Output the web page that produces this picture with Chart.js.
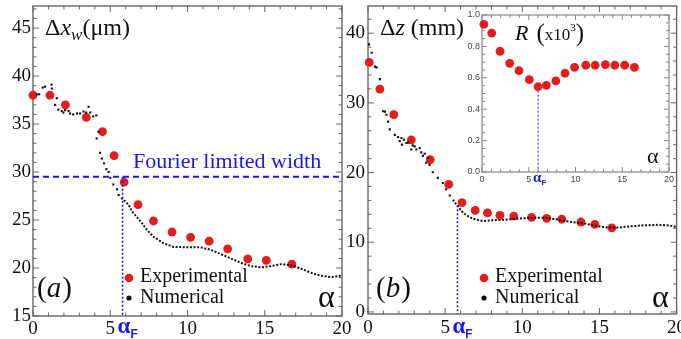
<!DOCTYPE html>
<html>
<head>
<meta charset="utf-8">
<script src="https://cdn.jsdelivr.net/npm/chart.js@4.4.1/dist/chart.umd.min.js"></script>
<style>
html, body { margin: 0; padding: 0; background: #fff; }
#wrap { position: relative; width: 681px; height: 339px; overflow: hidden; }
canvas { position: absolute; }
#chartA { left: 0; top: 0; }
#chartB { left: 340px; top: 0; }
#chartR { left: 460px; top: 5px; }
</style>
</head>
<body>
<div id="wrap">
  <canvas id="chartA" width="355" height="339"></canvas>
  <canvas id="chartB" width="341" height="339"></canvas>
  <canvas id="chartR" width="221" height="190"></canvas>
</div>
<script>
const SERIF = "'Liberation Serif', 'Times New Roman', serif";
const SANS = "'Liberation Sans', Arial, sans-serif";
const RED = '#e31c1c';
const BLUE = '#1818ee';
const INK = '#111';

// tick labels
const alphaTicks = [0, 5, 10, 15, 20];
const widthTicks = [15, 20, 25, 30, 35, 40, 45];
const depthTicks = [0, 10, 20, 30, 40];
const ratioTicks = [0, 0.2, 0.4, 0.6, 0.8, 1.0];

// markers
const ALPHA_F = 5.8;
const FOURIER_WIDTH = 29.5;
const ALPHA_F_RATIO = 6.0;
const RATIO_MIN = 0.543;

// (a) beam width
const expWidthAlpha = [0, 1.1, 2.1, 3.45, 4.5, 5.25, 5.9, 6.8, 7.8, 9.0, 10.2, 11.4, 12.6, 13.9, 15.1, 16.75];
const expWidth = [38.0, 38.0, 37.0, 35.7, 34.2, 31.7, 28.95, 26.6, 24.9, 23.75, 23.2, 22.8, 22.0, 20.95, 20.8, 20.4];
const numWidthAlpha = [0.24, 0.4, 0.63, 0.78, 1.2, 1.22, 1.43, 1.54, 1.64, 1.86, 1.97, 2.08, 2.3, 2.4, 2.6, 2.84, 3.05, 3.27, 3.44, 3.6, 3.7, 3.9, 4.1, 4.12, 4.24, 4.34, 4.45, 4.6, 4.75, 4.9, 5.0, 5.2, 5.44, 5.54,
  5.7, 5.86, 6.19, 6.4, 6.73, 7.06, 7.38, 7.8, 8.46, 9.1, 9.98, 10.84, 11.5, 12.14, 12.8, 13.44, 14.1, 14.74, 15.4, 16.04, 16.7, 17.3, 18.0, 18.6, 19.3, 19.9, 20];
const numWidth = [38.1, 38.1, 38.8, 38.9, 39.1, 38.7, 37.0, 37.7, 36.5, 36.35, 36.2, 36.45, 36.35, 36.1, 36.0, 36.1, 36.1, 36.3, 36.2, 36.8, 36.2, 35.8, 35.9, 33.5, 34.2, 32.0, 31.4, 30.9, 30.3, 30.0, 29.4, 28.7, 28.2, 27.6,
  27.3, 27.1, 26.6, 25.9, 25.3, 24.65, 23.96, 23.26, 22.57, 22.2, 22.16, 22.16, 21.9, 21.46, 21.0, 20.55, 20.2, 20.07, 20.2, 20.4, 20.3, 19.97, 19.5, 19.2, 19.05, 19.2, 19.2];
const NOISY_END_A = 5.6;

// (b) focal depth
const expDepthAlpha = [0.08, 0.77, 1.67, 2.81, 4.03, 5.23, 6.09, 6.95, 7.74, 8.55, 9.45, 10.6, 11.58, 12.56, 13.8, 14.7, 15.8];
const expDepth = [35.8, 31.96, 28.3, 24.7, 21.86, 18.3, 15.67, 14.57, 14.2, 13.86, 13.76, 13.57, 13.43, 13.3, 12.9, 12.57, 12.05];
const numDepthAlpha = [0.06, 0.24, 0.45, 0.56, 0.77, 0.98, 1.1, 1.2, 1.3, 1.41, 1.74, 1.95, 2.06, 2.17, 2.2, 2.33, 2.49, 2.6, 2.81, 2.9, 3.02, 3.13, 3.35, 3.45, 3.56, 3.67, 3.77, 3.9, 3.99, 4.2, 4.52, 4.85, 5.06, 5.3,
  5.5, 5.7, 5.9, 6.0, 6.2, 6.35, 6.77, 7.41, 8.06, 8.92, 9.77, 10.63, 11.49, 12.35, 13.2, 14.06, 14.92, 15.56, 16.2, 17.06, 17.9, 18.8, 19.4, 20];
const numDepth = [38.4, 37.2, 35.2, 35.1, 33.4, 28.8, 28.75, 28.3, 27.3, 26.2, 25.4, 25.1, 24.5, 24.95, 24.0, 24.7, 24.24, 24.3, 23.3, 23.9, 23.76, 23.3, 23.5, 22.9, 22.4, 22.7, 21.4, 22.1, 21.1, 20.04, 19.24, 18.5, 17.6, 16.7,
  16.1, 15.5, 15.0, 14.6, 14.2, 13.9, 13.4, 13.04, 13.14, 13.24, 13.4, 13.53, 13.53, 13.24, 12.9, 12.67, 12.29, 12.1, 12.1, 12.29, 12.43, 12.5, 12.43, 12.2];
const NOISY_END_B = 5.45;

// inset: R (x10^3)
const ratioAlpha = [0.2, 1.04, 1.93, 2.96, 3.96, 5.06, 5.99, 6.88, 7.9, 8.88, 9.9, 11.1, 12.1, 13.2, 14.2, 15.26, 16.3];
const ratio = [0.94, 0.885, 0.769, 0.692, 0.645, 0.588, 0.543, 0.552, 0.58, 0.629, 0.667, 0.68, 0.68, 0.684, 0.68, 0.68, 0.667];

const pts = (xs, ys) => xs.map((x, i) => ({ x: x, y: ys[i] }));

// frame with inward ticks on all four sides
const framePlugin = {
  id: 'frame',
  beforeDatasetsDraw(chart, args, o) {
    const { ctx, chartArea: a, scales: { x, y } } = chart;
    ctx.save();
    if (o.fill) {
      ctx.fillStyle = '#fff';
      ctx.fillRect(a.left, a.top, a.right - a.left, a.bottom - a.top);
    }
    ctx.strokeStyle = o.color;
    ctx.lineWidth = 1;
    ctx.beginPath();
    const each = (scale, minor, major, fn) => {
      for (let i = Math.ceil(scale.min / minor - 1e-6); i * minor <= scale.max + 1e-9; i++) {
        const v = i * minor;
        const isMajor = Math.abs(v / major - Math.round(v / major)) < 1e-6;
        fn(scale.getPixelForValue(v), isMajor ? o.majorLen : o.minorLen);
      }
    };
    each(x, o.xMinor, o.xMajor, (p, len) => {
      ctx.moveTo(p, a.bottom); ctx.lineTo(p, a.bottom - len);
      ctx.moveTo(p, a.top); ctx.lineTo(p, a.top + len);
    });
    each(y, o.yMinor, o.yMajor, (p, len) => {
      ctx.moveTo(a.left, p); ctx.lineTo(a.left + len, p);
      ctx.moveTo(a.right, p); ctx.lineTo(a.right - len, p);
    });
    ctx.stroke();
    ctx.lineWidth = o.lw;
    ctx.strokeRect(a.left, a.top, a.right - a.left, a.bottom - a.top);
    ctx.restore();
  }
};

function drawRuns(ctx, x, y, runs) {
  runs.forEach(r => {
    ctx.font = r.font;
    ctx.fillStyle = r.color || INK;
    ctx.fillText(r.t, x, y + (r.dy || 0));
    x += ctx.measureText(r.t).width + (r.gap || 0);
  });
  return x;
}

function drawLegend(ctx, dotX, textX, yExp, yNum) {
  ctx.fillStyle = RED;
  ctx.beginPath(); ctx.arc(dotX, yExp - 4, 4.3, 0, 2 * Math.PI); ctx.fill();
  ctx.fillStyle = INK;
  ctx.beginPath(); ctx.arc(dotX, yNum - 5, 2.6, 0, 2 * Math.PI); ctx.fill();
  ctx.font = '20px ' + SERIF;
  ctx.fillText('Experimental', textX, yExp);
  ctx.fillText('Numerical', textX, yNum);
}

function drawAlphaF(ctx, px, base, big, small) {
  drawRuns(ctx, px, base, [
    { t: 'α', font: 'bold ' + big + 'px ' + SERIF, color: BLUE },
    { t: 'F', font: 'bold ' + small + 'px ' + SANS, color: BLUE, dy: big * 0.22 }
  ]);
}

const overlayA = {
  id: 'overlayA',
  afterDraw(chart) {
    const ctx = chart.ctx, x = chart.scales.x;
    ctx.save();
    ctx.textBaseline = 'alphabetic'; ctx.textAlign = 'left';
    drawRuns(ctx, 45, 35, [
      { t: 'Δ', font: '24px ' + SERIF },
      { t: 'x', font: 'italic 24px ' + SERIF },
      { t: 'w', font: 'italic 17px ' + SERIF, dy: 5 },
      { t: '(μm)', font: '24px ' + SERIF }
    ]);
    drawRuns(ctx, 133, 168, [{ t: 'Fourier limited width', font: '22px ' + SERIF, color: BLUE }]);
    drawRuns(ctx, 37, 297, [
      { t: '(', font: '29px ' + SERIF },
      { t: 'a', font: 'italic 29px ' + SERIF, gap: 1 },
      { t: ')', font: '29px ' + SERIF }
    ]);
    drawRuns(ctx, 318, 307, [{ t: 'α', font: '32px ' + SERIF }]);
    drawLegend(ctx, 129, 140, 282, 303);
    drawAlphaF(ctx, x.getPixelForValue(ALPHA_F) - 5, 333, 23, 12);
    ctx.restore();
  }
};

const overlayB = {
  id: 'overlayB',
  afterDraw(chart) {
    const ctx = chart.ctx, x = chart.scales.x;
    ctx.save();
    ctx.textBaseline = 'alphabetic'; ctx.textAlign = 'left';
    drawRuns(ctx, 40, 35, [
      { t: 'Δ', font: '24px ' + SERIF },
      { t: 'z', font: 'italic 24px ' + SERIF },
      { t: ' (mm)', font: '24px ' + SERIF }
    ]);
    drawRuns(ctx, 36, 297, [
      { t: '(', font: '29px ' + SERIF },
      { t: 'b', font: 'italic 29px ' + SERIF, gap: 1 },
      { t: ')', font: '29px ' + SERIF }
    ]);
    drawRuns(ctx, 312, 307, [{ t: 'α', font: '32px ' + SERIF }]);
    drawLegend(ctx, 144, 155, 282, 303);
    drawAlphaF(ctx, x.getPixelForValue(ALPHA_F) - 5, 333, 23, 12);
    ctx.restore();
  }
};

const overlayR = {
  id: 'overlayR',
  afterDraw(chart) {
    const ctx = chart.ctx, x = chart.scales.x;
    ctx.save();
    ctx.textBaseline = 'alphabetic'; ctx.textAlign = 'left';
    drawRuns(ctx, 55, 35, [
      { t: 'R', font: 'italic 22px ' + SERIF, gap: 8 },
      { t: '(', font: '25px ' + SERIF, dy: 1 },
      { t: 'x10', font: '17px ' + SERIF },
      { t: '3', font: '11px ' + SERIF, dy: -9 },
      { t: ')', font: '25px ' + SERIF, dy: 1 }
    ]);
    drawRuns(ctx, 187, 158, [{ t: 'α', font: '22px ' + SERIF }]);
    drawAlphaF(ctx, x.getPixelForValue(ALPHA_F_RATIO) - 5, 177, 15, 8);
    ctx.restore();
  }
};

function linAxis(min, max, tickList, size, fit, font, pad, fmt) {
  return {
    type: 'linear', min: min, max: max,
    afterBuildTicks: s => { s.ticks = tickList.map(v => ({ value: v })); },
    afterFit: s => {
      if (s.isHorizontal()) s.height = size; else s.width = size;
      s.paddingLeft = s.paddingRight = s.paddingTop = s.paddingBottom = 0;
    },
    grid: { display: false, drawTicks: false },
    border: { display: false },
    ticks: { font: font, color: fit, padding: pad, maxRotation: 0, autoSkip: false, callback: fmt }
  };
}

function expSet(xs, ys) {
  return {
    label: 'Experimental', data: pts(xs, ys), showLine: false,
    pointRadius: 4.4, pointBackgroundColor: RED, pointBorderWidth: 0, clip: false
  };
}

function numSet(xs, ys, noisyEnd) {
  return {
    label: 'Numerical', data: pts(xs, ys), showLine: true,
    borderColor: INK, borderWidth: 2, borderDash: [2, 1.6], tension: 0,
    segment: { borderColor: c => c.p0.parsed.x < noisyEnd ? 'rgba(0,0,0,0)' : INK },
    pointStyle: 'rect', pointBackgroundColor: INK, pointBorderWidth: 0,
    pointRadius: c => (c.raw && c.raw.x < noisyEnd) ? 1.5 : 0
  };
}

function guideSet(data, dash, width, color) {
  return {
    label: 'guide', data: data, showLine: true, pointRadius: 0,
    borderColor: color || BLUE, borderWidth: width, borderDash: dash
  };
}

const serifTick = { family: SERIF, size: 19 };
const baseOptions = (pad) => ({
  responsive: false,
  animation: false,
  events: [],
  layout: { padding: pad },
  plugins: { legend: { display: false }, tooltip: { enabled: false } }
});

// panel (a)
const optsA = baseOptions({ top: 6, right: 13, left: 0, bottom: 0 });
optsA.scales = {
  x: linAxis(0, 20, alphaTicks, 23, INK, serifTick, 2),
  y: linAxis(15, 47.3, widthTicks, 33, INK, serifTick, 2)
};
optsA.plugins.frame = { xMinor: 1, xMajor: 5, yMinor: 1, yMajor: 5, color: '#666', lw: 1.4, majorLen: 6, minorLen: 3.5 };
new Chart(document.getElementById('chartA'), {
  type: 'scatter',
  data: { datasets: [
    guideSet([{ x: 0, y: FOURIER_WIDTH }, { x: 20, y: FOURIER_WIDTH }], [6, 4], 2),
    guideSet([{ x: ALPHA_F, y: FOURIER_WIDTH }, { x: ALPHA_F, y: 15 }], [2, 2], 1.6),
    numSet(numWidthAlpha, numWidth, NOISY_END_A),
    expSet(expWidthAlpha, expWidth)
  ] },
  options: optsA,
  plugins: [framePlugin, overlayA]
});

// panel (b)
const optsB = baseOptions({ top: 6, right: 2, left: 0, bottom: 0 });
optsB.scales = {
  x: linAxis(0, 20, alphaTicks, 25, INK, serifTick, 3),
  y: linAxis(-0.3, 43.9, depthTicks, 28, INK, serifTick, 3)
};
optsB.plugins.frame = { xMinor: 1, xMajor: 5, yMinor: 2, yMajor: 10, color: '#666', lw: 1.4, majorLen: 6, minorLen: 3.5 };
new Chart(document.getElementById('chartB'), {
  type: 'scatter',
  data: { datasets: [
    guideSet([{ x: ALPHA_F, y: 15.3 }, { x: ALPHA_F, y: -0.3 }], [2, 2], 1.6),
    numSet(numDepthAlpha, numDepth, NOISY_END_B),
    expSet(expDepthAlpha, expDepth)
  ] },
  options: optsB,
  plugins: [framePlugin, overlayB]
});

// inset
const optsR = baseOptions({ top: 10, right: 12, left: 0, bottom: 0 });
const sansTick = { family: SANS, size: 9 };
optsR.scales = {
  x: linAxis(0, 20, alphaTicks, 23, '#444', sansTick, 2),
  y: linAxis(0, 1, ratioTicks, 22, '#444', sansTick, 2, v => v.toFixed(1))
};
optsR.plugins.frame = { xMinor: 1, xMajor: 5, yMinor: 0.05, yMajor: 0.2, color: '#888', lw: 1.2, majorLen: 5, minorLen: 3, fill: true };
new Chart(document.getElementById('chartR'), {
  type: 'scatter',
  data: { datasets: [
    guideSet([{ x: ALPHA_F_RATIO, y: RATIO_MIN }, { x: ALPHA_F_RATIO, y: 0 }], [2, 2], 1.4, '#5a5af5'),
    expSet(ratioAlpha, ratio)
  ] },
  options: optsR,
  plugins: [framePlugin, overlayR]
});
</script>
</body>
</html>
